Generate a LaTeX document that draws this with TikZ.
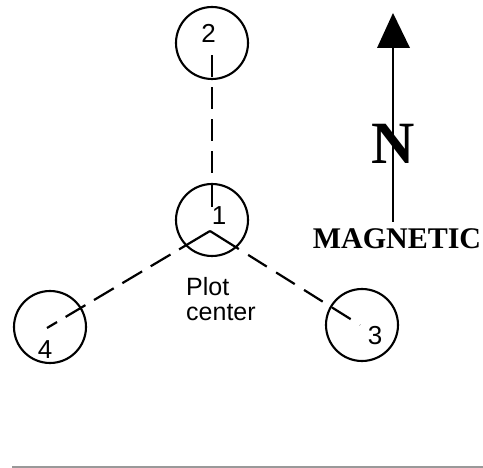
\documentclass[tikz,border=0pt]{standalone}
\usepackage{fontspec}
\setmainfont{Liberation Sans}
\newfontfamily\serifbold{Liberation Serif}
\tikzset{
  plotcirc/.style={draw, circle, line width=2.1pt, minimum size=72pt, inner sep=0pt},
  numlabel/.style={inner sep=0pt, font=\fontsize{26}{26}\selectfont},
  txt/.style={inner sep=0pt, anchor=base west, font=\fontsize{25}{25}\selectfont},
  dashline/.style={line width=2.2pt},
}
\begin{document}
\begin{tikzpicture}[x=1pt,y=-1pt]
\useasboundingbox (0,0) rectangle (483,468);
% circles
\node[plotcirc] (c1) at (212,220) {};
\node[plotcirc] (c2) at (212,43) {};
\node[plotcirc] (c3) at (362,325) {};
\node[plotcirc] (c4) at (50,327) {};
% labels
\node[numlabel] (l1) at (219,216) {1};
\node[numlabel] (l2) at (208.5,33.5) {2};
\node[numlabel] (l3) at (375,335.5) {3};
\node[numlabel] (l4) at (45,349.5) {4};
% connector points
\coordinate (apex) at (210,231);
\coordinate (top1) at (212,207);
\coordinate (e2) at (212,55);
\coordinate (e3) at (360,325);
\coordinate (e4) at (47,328);
\draw[dashline, dash pattern=on 24pt off 10pt on 22pt off 10pt on 22pt off 10pt on 22pt off 10pt on 22pt off 10pt on 30pt off 10pt] (top1) -- (e2);
\draw[dashline, dash pattern=on 34pt off 11pt on 22pt off 11pt on 22pt off 11pt on 22pt off 11pt on 22pt off 11pt on 30pt off 10pt] (apex) -- (e3);
\draw[dashline, dash pattern=on 36pt off 10pt on 23pt off 10pt on 23pt off 10pt on 23pt off 10pt on 23pt off 10pt on 30pt off 10pt] (apex) -- (e4);
% plot center text
\node[txt] (p1) at (186,296) {Plot};
\node[txt] (p2) at (186,321) {center};
% north arrow
\coordinate (tip) at (393,13);
\coordinate (bl) at (377,48);
\coordinate (br) at (410,48);
\coordinate (foot) at (393,222);
\fill (tip) -- (br) -- (bl) -- cycle;
\draw[line width=1.5pt] (393,48) -- (foot);
\node[inner sep=0pt, font=\serifbold\bfseries\fontsize{60}{60}\selectfont] (N) at (393.5,143.5) {N};
\node[inner sep=0pt, font=\serifbold\bfseries\fontsize{30}{30}\selectfont] (mag) at (397,238.5) {MAGNETIC};
% bottom edge
\draw[gray!80, line width=1.5pt] (12,467) -- (483,467);
\end{tikzpicture}
\end{document}
